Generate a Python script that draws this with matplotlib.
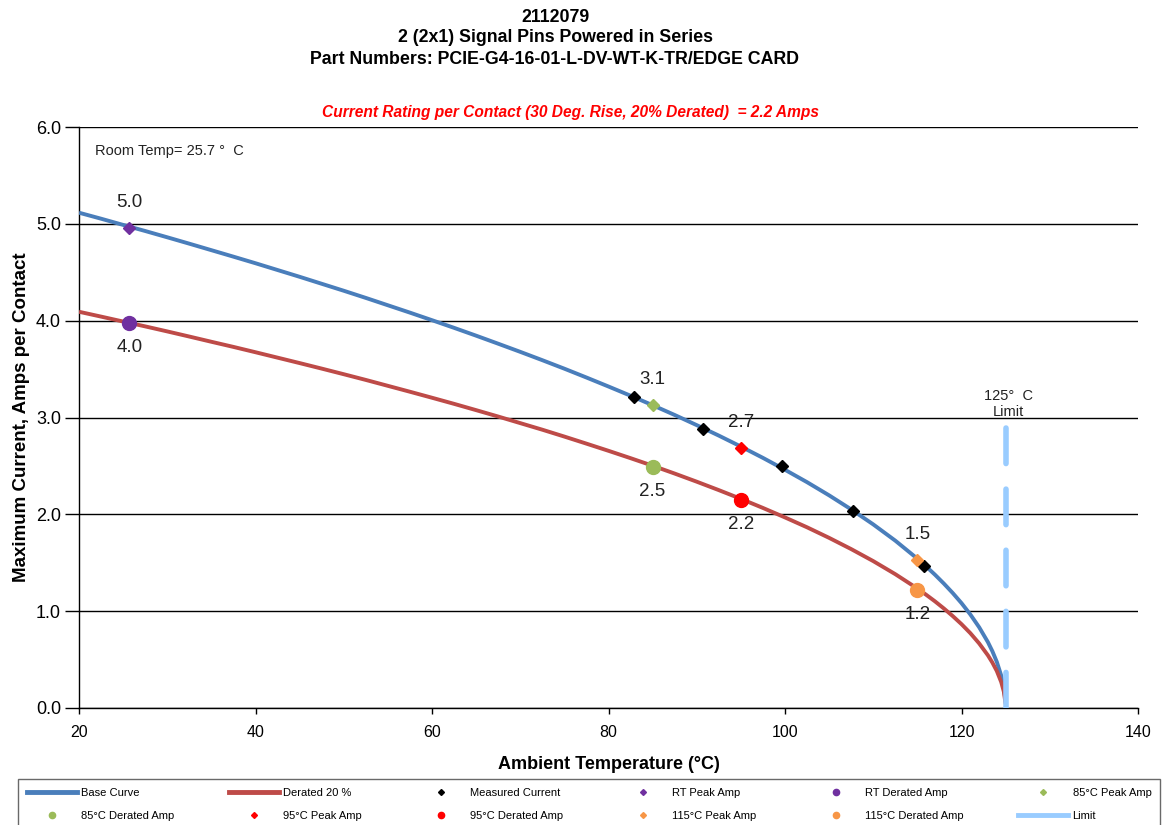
import matplotlib
matplotlib.use("Agg")
import matplotlib.pyplot as plt
from matplotlib.lines import Line2D

plt.rcParams['font.family'] = ['Liberation Sans', 'DejaVu Sans']

# ---- data ----
temps = [20, 22.5, 25, 27.5, 30, 32.5, 35, 37.5, 40, 42.5, 45, 47.5, 50, 52.5,
         55, 57.5, 60, 62.5, 65, 67.5, 70, 72.5, 75, 77.5, 80, 82.5, 85, 87.5,
         90, 92.5, 95, 97.5, 100, 102.5, 105, 107.5, 110, 112.5, 115, 116, 117,
         118, 119, 120, 121, 122, 123, 123.5, 124, 124.5, 124.8, 125]
base_curve = [5.115, 5.053, 4.989, 4.926, 4.861, 4.795, 4.728, 4.661, 4.593,
              4.523, 4.453, 4.381, 4.309, 4.235, 4.159, 4.083, 4.005, 3.926,
              3.845, 3.762, 3.678, 3.592, 3.504, 3.413, 3.320, 3.225, 3.127,
              3.026, 2.921, 2.813, 2.700, 2.583, 2.460, 2.332, 2.196, 2.051,
              1.896, 1.728, 1.542, 1.461, 1.376, 1.285, 1.188, 1.083, 0.966,
              0.834, 0.679, 0.586, 0.477, 0.335, 0.210, 0.06]
derated_curve = [4.092, 4.042, 3.991, 3.941, 3.889, 3.836, 3.782, 3.729, 3.674,
                 3.618, 3.562, 3.505, 3.447, 3.388, 3.327, 3.266, 3.204, 3.141,
                 3.076, 3.010, 2.942, 2.874, 2.803, 2.730, 2.656, 2.580, 2.502,
                 2.421, 2.337, 2.250, 2.160, 2.066, 1.968, 1.866, 1.757, 1.641,
                 1.517, 1.382, 1.234, 1.169, 1.101, 1.028, 0.950, 0.866, 0.773,
                 0.667, 0.543, 0.469, 0.382, 0.268, 0.168, 0.04]

measured_t = [82.9, 90.7, 99.7, 107.7, 115.75]
measured_i = [3.21, 2.88, 2.50, 2.03, 1.47]

rt_t = 25.7
rt_peak, rt_derated = 4.96, 3.98
t85_peak, t85_derated = 3.13, 2.49
t95_peak, t95_derated = 2.69, 2.15
t115_peak, t115_derated = 1.53, 1.22
limit_t = 125
limit_top = 2.92

# ---- figure ----
fig = plt.figure(figsize=(11.65, 8.25), dpi=100)
ax = fig.add_axes([79/1165, 1-708/825, (1138-79)/1165, (708-127)/825])

blue = '#4A7EBB'
red = '#BE4B48'
green = '#9BBB59'
orange = '#F79646'
purple = '#7030A0'
limit_c = '#99CCFF'

ax.plot(temps, base_curve, color=blue, lw=2.8, zorder=3, label='Base Curve',
        solid_capstyle='butt')
ax.plot(temps, derated_curve, color=red, lw=2.8, zorder=3, label='Derated 20 %',
        solid_capstyle='butt')
ax.plot(measured_t, measured_i, 'D', color='black', ms=6.5, ls='none', zorder=5,
        label='Measured Current')
ax.plot([rt_t], [rt_peak], 'D', color=purple, ms=6.5, zorder=5, label='RT Peak Amp')
ax.plot([rt_t], [rt_derated], 'o', color=purple, ms=10, zorder=5, label='RT Derated Amp')
ax.plot([85], [t85_peak], 'D', color=green, ms=6.5, zorder=5, label='85°C Peak Amp')
ax.plot([85], [t85_derated], 'o', color=green, ms=10, zorder=5, label='85°C Derated Amp')
ax.plot([95], [t95_peak], 'D', color='#FF0000', ms=6.5, zorder=5, label='95°C Peak Amp')
ax.plot([95], [t95_derated], 'o', color='#FF0000', ms=10, zorder=5, label='95°C Derated Amp')
ax.plot([115], [t115_peak], 'D', color=orange, ms=6.5, zorder=5, label='115°C Peak Amp')
ax.plot([115], [t115_derated], 'o', color=orange, ms=10, zorder=5, label='115°C Derated Amp')
ax.plot([limit_t, limit_t], [0, limit_top], color=limit_c, lw=4,
        dashes=(6.4, 4.6), dash_capstyle='round', zorder=4, label='Limit')

# data labels
lab_kw = dict(fontsize=13.5, ha='center', color='#222222', zorder=6)
ax.text(rt_t, rt_peak + 0.17, '5.0', va='bottom', **lab_kw)
ax.text(rt_t, rt_derated - 0.17, '4.0', va='top', **lab_kw)
ax.text(85, t85_peak + 0.17, '3.1', va='bottom', **lab_kw)
ax.text(85, t85_derated - 0.17, '2.5', va='top', **lab_kw)
ax.text(95, t95_peak + 0.17, '2.7', va='bottom', **lab_kw)
ax.text(95, t95_derated - 0.17, '2.2', va='top', **lab_kw)
ax.text(115, t115_peak + 0.17, '1.5', va='bottom', **lab_kw)
ax.text(115, t115_derated - 0.17, '1.2', va='top', **lab_kw)

ax.text(125.3, 3.14, '125°  C\nLimit', ha='center', va='center', fontsize=10.5,
        linespacing=1.15, color='#222222')
ax.text(21.8, 5.75, 'Room Temp= 25.7 °  C', ha='left', va='center', fontsize=10.5,
        color='#222222')

# axes
ax.set_xlim(20, 140)
ax.set_ylim(0, 6)
ax.set_xticks([20, 40, 60, 80, 100, 120, 140])
ax.set_yticks([0, 1, 2, 3, 4, 5, 6])
ax.set_yticklabels([f'{v:.1f}' for v in range(7)], fontsize=13)
ax.set_xticklabels([str(v) for v in [20, 40, 60, 80, 100, 120, 140]], fontsize=11.5)
ax.tick_params(axis='y', direction='out', length=10, width=1, color='black', pad=3)
ax.tick_params(axis='x', direction='out', length=4, width=1, color='black', pad=8)
for s in ['top', 'right']:
    ax.spines[s].set_visible(False)
for s in ['left', 'bottom']:
    ax.spines[s].set_color('black')
    ax.spines[s].set_linewidth(1)
ax.yaxis.grid(True, color='black', lw=1)
ax.set_axisbelow(True)

ax.set_xlabel('Ambient Temperature (°C)', fontsize=13, fontweight='bold', labelpad=12)
ax.set_ylabel('Maximum Current, Amps per Contact', fontsize=13.5, fontweight='bold',
              labelpad=4.5)

# titles
tx = 555/1165
fig.text(tx, 1-17/825, '2112079', ha='center', va='center', fontsize=12.8, fontweight='bold')
fig.text(tx, 1-38/825, '2 (2x1) Signal Pins Powered in Series', ha='center', va='center',
         fontsize=12.8, fontweight='bold')
fig.text(tx, 1-59/825, 'Part Numbers: PCIE-G4-16-01-L-DV-WT-K-TR/EDGE CARD', ha='center',
         va='center', fontsize=12.8, fontweight='bold')
fig.text(570/1165, 1-112/825,
         'Current Rating per Contact (30 Deg. Rise, 20% Derated)  = 2.2 Amps',
         ha='center', va='center', fontsize=11.2, fontweight='bold', style='italic',
         color='#FF0000')

# legend (row-major order as in the reference)
handles, labels = ax.get_legend_handles_labels()
new_handles = []
for h, l in zip(handles, labels):
    m = h.get_marker()
    if m in ('D', 'o'):
        new_handles.append(Line2D([], [], marker=m, color=h.get_color(), ls='none',
                                  ms=3 if m == 'D' else 4.5))
    else:
        new_handles.append(Line2D([], [], color=h.get_color(), lw=3.5))
order = [0, 6, 1, 7, 2, 8, 3, 9, 4, 10, 5, 11]
leg = fig.legend([new_handles[i] for i in order], [labels[i] for i in order],
                 ncol=6, loc='upper left',
                 bbox_to_anchor=(18/1165, 0, (1160-18)/1165, 1-779/825),
                 mode='expand', frameon=True, fancybox=False,
                 handlelength=4.5, handletextpad=0.4, borderaxespad=0,
                 borderpad=0.77, columnspacing=1.0, labelspacing=1.22,
                 prop={'size': 8})
leg.get_frame().set_edgecolor('#444444')
leg.get_frame().set_linewidth(1)

fig.savefig('out.png', dpi=100)
